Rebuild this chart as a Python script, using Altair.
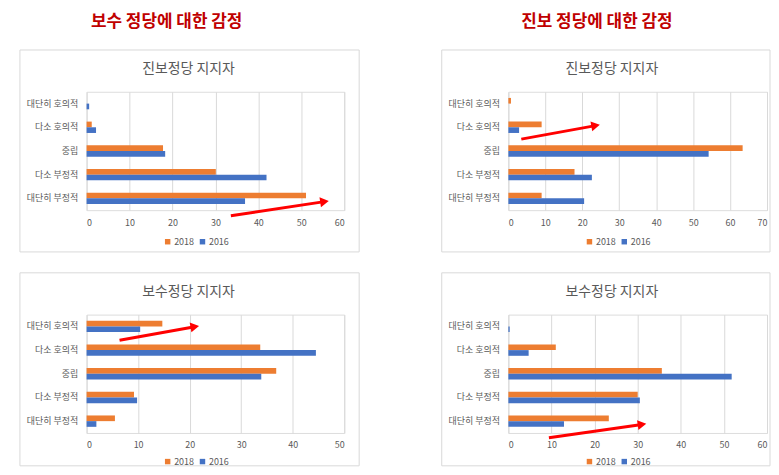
import math
import altair as alt
import pandas as pd

FONT = "Noto Sans CJK KR"

categories = ["대단히 호의적", "다소 호의적", "중립", "다소 부정적", "대단히 부정적"]
years = ["2018", "2016"]

header_left = "보수 정당에 대한 감정"
header_right = "진보 정당에 대한 감정"
title_prog = "진보정당 지지자"
title_cons = "보수정당 지지자"

# Feelings toward conservative party
p1_2018 = [0.0, 1.2, 17.8, 30.1, 51.1]
p1_2016 = [0.6, 2.2, 18.3, 41.9, 36.9]
p3_2018 = [14.7, 33.7, 36.8, 9.2, 5.5]
p3_2016 = [10.4, 44.5, 33.9, 9.8, 1.9]
# Feelings toward progressive party
p2_2018 = [0.7, 9.0, 63.4, 17.9, 9.0]
p2_2016 = [0.0, 2.9, 54.2, 22.6, 20.5]
p4_2018 = [0.0, 11.0, 35.6, 30.0, 23.3]
p4_2016 = [0.3, 4.7, 51.8, 30.5, 12.9]

x_max = [60, 70, 50, 60]
tick_values = [
    [0, 10, 20, 30, 40, 50, 60],
    [0, 10, 20, 30, 40, 50, 60, 70],
    [0, 10, 20, 30, 40, 50],
    [0, 10, 20, 30, 40, 50, 60],
]

# red annotation arrows (x in data units, y in category-band units from bottom)
arrow_x0 = [33.6, 3.5, 6.4, 9.4]
arrow_x1 = [55.4, 23.6, 21.0, 31.0]
arrow_y0 = [-0.24, 3.0, 3.92, -0.2]
arrow_y1 = [0.36, 3.57, 4.49, 0.36]

ORANGE = "#ED7D31"
BLUE = "#4472C4"
GRID = "#D9D9D9"
TXT = "#595959"

PLOT_H = 119
WIDTHS = [259, 260, 259, 260]


def panel(i, title, v18, v16, frame_right, frame_bottom, legend_y, title_dx):
    w = WIDTHS[i]
    xmax = x_max[i]
    rows = []
    for c, a, b in zip(categories, v18, v16):
        rows.append({"cat": c, "year": "2018", "value": a})
        rows.append({"cat": c, "year": "2016", "value": b})
    df = pd.DataFrame(rows)

    xscale = alt.Scale(domain=[0, xmax], nice=False)
    xaxis = alt.Axis(title=None, ticks=False, domain=False,
                     values=tick_values[i], labelOverlap=False,
                     grid=True, gridColor=GRID, labelPadding=8,
                     labelFontSize=9, labelColor=TXT, labelFont=FONT)

    bars = alt.Chart(df).mark_bar().encode(
        y=alt.Y("cat:N", sort=categories,
                scale=alt.Scale(paddingInner=0.52, paddingOuter=0.26),
                axis=alt.Axis(title=None, ticks=False, domain=False,
                              labelPadding=9, labelFontSize=9, labelColor=TXT,
                              labelFont=FONT)),
        x=alt.X("value:Q", scale=xscale, axis=xaxis),
        yOffset=alt.YOffset("year:N", sort=years),
        color=alt.Color("year:N", sort=years,
                        scale=alt.Scale(domain=years, range=[ORANGE, BLUE]),
                        legend=alt.Legend(title=None, orient="none",
                                          direction="horizontal",
                                          legendX=77, legendY=legend_y,
                                          symbolType="square", symbolSize=30,
                                          symbolStrokeWidth=0,
                                          labelFontSize=9, labelColor=TXT,
                                          labelFont=FONT, columnPadding=4,
                                          labelOffset=2)),
    )

    adf = pd.DataFrame({"x0": [arrow_x0[i]], "x1": [arrow_x1[i]],
                        "y0": [arrow_y0[i]], "y1": [arrow_y1[i]]})
    sx = w / xmax
    sy = PLOT_H / 5
    ang = math.degrees(math.atan2(-(arrow_y1[i] - arrow_y0[i]) * sy,
                                  (arrow_x1[i] - arrow_x0[i]) * sx)) % 360
    yq = alt.Scale(domain=[0, 5], nice=False, zero=False)
    shaft = alt.Chart(adf).mark_rule(color="#FF0000", strokeWidth=3).encode(
        x=alt.X("x0:Q", scale=xscale, axis=xaxis), x2="x1:Q",
        y=alt.Y("y0:Q", scale=yq, axis=None), y2="y1:Q")
    head = alt.Chart(adf).mark_point(shape="triangle-right", filled=True,
                                     color="#FF0000", opacity=1, size=100,
                                     angle=ang).encode(
        x=alt.X("x1:Q", scale=xscale, axis=xaxis),
        y=alt.Y("y1:Q", scale=yq, axis=None))

    frame = alt.Chart(pd.DataFrame({"k": [0]})).mark_rect(
        fill="white", fillOpacity=0, stroke=GRID, strokeWidth=1).encode(
        x=alt.value(-67), x2=alt.value(frame_right),
        y=alt.value(-42), y2=alt.value(frame_bottom))

    return alt.layer(frame, bars, shaft, head).resolve_scale(
        y="independent").properties(
        width=w, height=PLOT_H,
        title=alt.TitleParams(title, fontSize=14, color=TXT,
                              fontWeight="normal", font=FONT,
                              anchor="middle", frame="bounds",
                              offset=-27, dx=title_dx))


p1 = panel(0, title_prog, p1_2018, p1_2016, 274, 161, 146, -1)
p2 = panel(1, title_prog, p2_2018, p2_2016, 263, 161, 146, 6)
p3 = panel(2, title_cons, p3_2018, p3_2016, 274, 152, 143, -1)
p4 = panel(3, title_cons, p4_2018, p4_2016, 263, 152, 143, 6)

hdr = dict(fontSize=17, color="#C00000", fontWeight="bold", font=FONT,
           anchor="middle", offset=18)

left = alt.vconcat(p1, p3, spacing=19,
                   title=alt.TitleParams(header_left, dx=-23, **hdr)
                   ).resolve_scale(color="independent").resolve_legend(color="independent")
right = alt.vconcat(p2, p4, spacing=19,
                    title=alt.TitleParams(header_right, dx=-9, **hdr)
                    ).resolve_scale(color="independent").resolve_legend(color="independent")

chart = alt.hconcat(left, right, spacing=81).resolve_scale(
    color="independent").resolve_legend(color="independent").properties(
    padding={"left": 11, "top": 4, "right": 0, "bottom": 0}
).configure_view(stroke=None).configure(font=FONT, background="white")

chart.save("out.html", embed_options={"renderer": "svg", "actions": False})
